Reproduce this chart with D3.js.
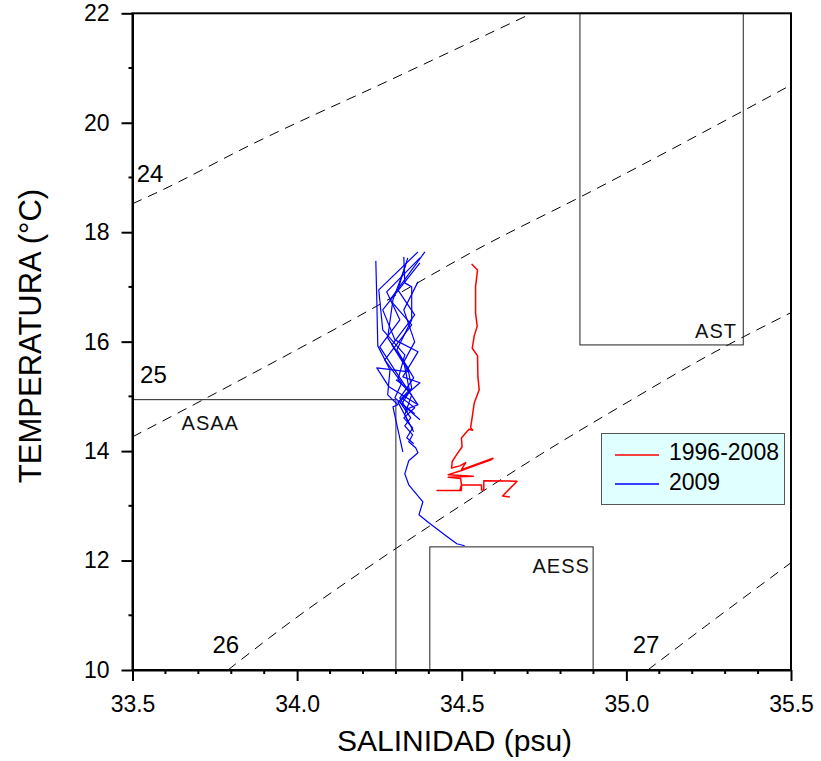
<!DOCTYPE html>
<html>
<head>
<meta charset="utf-8">
<script src="https://cdn.jsdelivr.net/npm/d3@7"></script>
<style>
  html, body { margin: 0; padding: 0; background: #fff; }
  svg { display: block; font-family: Arial, "Liberation Sans", sans-serif; }
</style>
</head>
<body>
<svg id="chart" width="821" height="761"></svg>
<script>
// Axis ticks
const xMajor = [33.5, 34.0, 34.5, 35.0, 35.5];
const xMinor = [33.6, 33.7, 33.8, 33.9, 34.1, 34.2, 34.3, 34.4, 34.6, 34.7, 34.8, 34.9, 35.1, 35.2, 35.3, 35.4];
const yMajor = [10, 12, 14, 16, 18, 20, 22];
const yMinor = [11, 13, 15, 17, 19, 21];

// Sigma-t isopycnals [salinity, temperature]
const sigma24 = [[33.50, 18.52], [33.583, 18.75], [33.857, 19.59], [34.282, 20.78], [34.713, 22.0]];
const sigma25 = [[33.50, 14.26], [33.887, 15.49], [34.200, 16.51], [34.579, 17.79], [34.859, 18.64], [35.50, 20.69]];
const sigma26 = [[33.790, 10.0], [33.969, 10.83], [34.273, 12.11], [34.519, 13.09], [34.737, 13.93], [34.980, 14.81], [35.253, 15.76], [35.50, 16.53]];
const sigma27 = [[35.065, 10.0], [35.247, 10.83], [35.50, 11.96]];
const isoLabels = [
  { text: "24", s: 33.513, t: 18.92 },
  { text: "25", s: 33.523, t: 15.24 },
  { text: "26", s: 33.743, t: 10.31 },
  { text: "27", s: 35.019, t: 10.31 }
];

// Water-mass domains
const asaaLimits = { sMax: 34.3, tTop: 14.94 };
const aess = { s0: 34.403, s1: 34.899, t0: 10, t1: 12.25 };
const ast = { s0: 34.859, s1: 35.355, t0: 15.94, t1: 22 };
const massLabels = [
  { text: "ASAA", s: 33.649, t: 14.39, anchor: "start" },
  { text: "AESS", s: 34.889, t: 11.78, anchor: "end" },
  { text: "AST",  s: 35.336, t: 16.07, anchor: "end" }
];

// Mean T-S profile 1996-2008
const tsRed = [
  [34.530, 17.42], [34.548, 17.31], [34.542, 17.01], [34.542, 16.52], [34.547, 16.28], [34.538, 16.11],
  [34.532, 15.88], [34.548, 15.74], [34.549, 15.36], [34.553, 15.12], [34.538, 14.88], [34.532, 14.63],
  [34.527, 14.43], [34.533, 14.38], [34.522, 14.40], [34.499, 14.24], [34.501, 14.08], [34.484, 13.93],
  [34.471, 13.81], [34.469, 13.69], [34.494, 13.73], [34.512, 13.79], [34.499, 13.66], [34.595, 13.87],
  [34.589, 13.84], [34.497, 13.64], [34.459, 13.57], [34.535, 13.54], [34.459, 13.52], [34.497, 13.50],
  [34.499, 13.38], [34.494, 13.28], [34.425, 13.28], [34.499, 13.28], [34.499, 13.38], [34.560, 13.38],
  [34.560, 13.29], [34.567, 13.29], [34.567, 13.46], [34.668, 13.45], [34.624, 13.18], [34.646, 13.16]
];

// CTD casts 2009
const cast1 = [[34.239, 17.476], [34.242, 16.763], [34.245, 15.923], [34.282, 15.485], [34.275, 15.028], [34.306, 14.846], [34.291, 14.809], [34.321, 13.987]];
const cast2 = [[34.367, 17.640], [34.248, 16.946], [34.260, 16.215], [34.327, 15.759], [34.306, 15.302], [34.348, 15.028], [34.327, 14.663], [34.342, 14.480]];
const cast3 = [[34.373, 17.531], [34.272, 16.910], [34.312, 16.398], [34.251, 15.905], [34.300, 15.448], [34.367, 14.846], [34.327, 14.754]];
const cast4 = [[34.388, 17.640], [34.282, 16.763], [34.348, 16.307], [34.266, 15.667], [34.318, 15.248], [34.297, 14.973], [34.373, 14.572]];
const cast5 = [[34.324, 17.549], [34.327, 17.074], [34.348, 17.001], [34.348, 16.398], [34.303, 15.850], [34.354, 15.339], [34.312, 14.973], [34.336, 14.718]];
const cast6 = [[34.336, 17.531], [34.306, 16.946], [34.357, 16.490], [34.288, 15.942], [34.339, 15.448], [34.242, 15.521], [34.279, 15.174], [34.367, 14.846]];
const cast7 = [[34.373, 17.439], [34.260, 16.581], [34.297, 16.033], [34.367, 15.814], [34.321, 15.357], [34.373, 15.248], [34.306, 14.900], [34.354, 14.353]];
const cast8 = [[34.330, 17.403], [34.291, 16.763], [34.275, 16.069], [34.336, 15.521], [34.348, 15.156], [34.318, 14.864], [34.357, 14.681]];
const cast9 = [[34.367, 17.092], [34.324, 16.581], [34.357, 15.996], [34.324, 15.631], [34.342, 15.083], [34.312, 14.900],
  [34.345, 14.608], [34.327, 14.462], [34.351, 14.298], [34.339, 14.170], [34.360, 14.061], [34.367, 13.969],
  [34.339, 13.823], [34.327, 13.585], [34.339, 13.384], [34.382, 13.074], [34.370, 12.836], [34.400, 12.690],
  [34.452, 12.453], [34.485, 12.307], [34.509, 12.270]];
const cast10 = [[34.300, 15.302], [34.342, 15.120], [34.318, 14.973], [34.357, 14.791], [34.324, 14.608], [34.351, 14.425], [34.333, 14.243], [34.354, 14.133]];
const casts2009 = [cast1, cast2, cast3, cast4, cast5, cast6, cast7, cast8, cast9, cast10];

const legendItems = [
  { label: "1996-2008", color: "#ff0000" },
  { label: "2009", color: "#0000ff" }
];

const svg = d3.select("#chart");
const x = d3.scaleLinear().domain([33.5, 35.5]).range([132.5, 791]);
const y = d3.scaleLinear().domain([10, 22]).range([670, 13.3]);
const line = d3.line().x(d => x(d[0])).y(d => y(d[1]));
const smooth = d3.line().x(d => x(d[0])).y(d => y(d[1])).curve(d3.curveMonotoneX);

const plot = svg.append("g");
plot.append("clipPath").attr("id", "clip")
  .append("rect").attr("x", x(33.5)).attr("y", y(22)).attr("width", x(35.5) - x(33.5)).attr("height", y(10) - y(22));

// Isopycnals
const iso = plot.append("g").attr("clip-path", "url(#clip)");
iso.selectAll("path.iso").data([sigma24, sigma25, sigma26, sigma27]).join("path")
  .attr("class", "iso").attr("d", smooth).attr("fill", "none")
  .attr("stroke", "#000").attr("stroke-width", 1).attr("stroke-dasharray", "10,7");
plot.selectAll("text.isolab").data(isoLabels).join("text").attr("class", "isolab")
  .attr("x", d => x(d.s)).attr("y", d => y(d.t))
  .attr("font-size", 24).attr("fill", "#000").text(d => d.text);

// Water-mass boxes
const boxes = plot.append("g").attr("fill", "none").attr("stroke", "#222").attr("stroke-width", 1);
boxes.append("path").attr("d", line([[33.5, asaaLimits.tTop], [asaaLimits.sMax, asaaLimits.tTop], [asaaLimits.sMax, 10]]));
boxes.append("rect").attr("x", x(aess.s0)).attr("y", y(aess.t1))
  .attr("width", x(aess.s1) - x(aess.s0)).attr("height", y(aess.t0) - y(aess.t1));
boxes.append("rect").attr("x", x(ast.s0)).attr("y", y(ast.t1))
  .attr("width", x(ast.s1) - x(ast.s0)).attr("height", y(ast.t0) - y(ast.t1));
plot.selectAll("text.masslab").data(massLabels).join("text").attr("class", "masslab")
  .attr("x", d => x(d.s)).attr("y", d => y(d.t)).attr("text-anchor", d => d.anchor)
  .attr("font-size", 20).attr("letter-spacing", 1).attr("fill", "#111").text(d => d.text);

// T-S curves
plot.append("path").attr("d", line(tsRed)).attr("fill", "none")
  .attr("stroke", "#ff0000").attr("stroke-width", 1.5).attr("stroke-linejoin", "round");
plot.selectAll("path.cast").data(casts2009).join("path").attr("class", "cast")
  .attr("d", line).attr("fill", "none")
  .attr("stroke", "#0000ff").attr("stroke-width", 1.2).attr("stroke-linejoin", "round");

// Frame
svg.append("rect").attr("x", x(33.5)).attr("y", y(22)).attr("width", x(35.5) - x(33.5)).attr("height", y(10) - y(22))
  .attr("fill", "none").attr("stroke", "#000").attr("stroke-width", 2);

// Axes with major labelled ticks
const fmtX = d3.format(".1f");
const gx = svg.append("g").attr("transform", `translate(0,${y(10)})`)
  .call(d3.axisBottom(x).tickValues(xMajor).tickFormat(fmtX).tickSizeInner(11).tickSizeOuter(0).tickPadding(15));
const gy = svg.append("g").attr("transform", `translate(${x(33.5)},0)`)
  .call(d3.axisLeft(y).tickValues(yMajor).tickSizeInner(11).tickSizeOuter(0).tickPadding(12));
[gx, gy].forEach(g => {
  g.select(".domain").attr("stroke", "#000").attr("stroke-width", 2);
  g.selectAll(".tick line").attr("stroke", "#000").attr("stroke-width", 2);
  g.selectAll("text").attr("font-size", 23).attr("fill", "#000")
    .attr("font-family", "Arial, 'Liberation Sans', sans-serif");
});

// Minor ticks
svg.append("g").selectAll("line").data(xMinor).join("line")
  .attr("x1", d => x(d)).attr("x2", d => x(d)).attr("y1", y(10)).attr("y2", y(10) + 4)
  .attr("stroke", "#000").attr("stroke-width", 2);
svg.append("g").selectAll("line").data(yMinor).join("line")
  .attr("x1", x(33.5)).attr("x2", x(33.5) - 4).attr("y1", d => y(d)).attr("y2", d => y(d))
  .attr("stroke", "#000").attr("stroke-width", 2);

// Axis titles
svg.append("text").attr("x", 337).attr("y", 751).attr("font-size", 30).attr("fill", "#000")
  .text("SALINIDAD (psu)");
svg.append("text").attr("transform", "translate(41,336) rotate(-90)").attr("text-anchor", "middle")
  .attr("font-size", 31).attr("fill", "#000").text("TEMPERATURA (°C)");

// Legend
const lg = svg.append("g");
lg.append("rect").attr("x", 601.5).attr("y", 433.5).attr("width", 183).attr("height", 71)
  .attr("fill", "#e0ffff").attr("stroke", "#555").attr("stroke-width", 1);
const rows = lg.selectAll("g.row").data(legendItems).join("g").attr("class", "row")
  .attr("transform", (d, i) => `translate(0,${455 + i * 29})`);
rows.append("line").attr("x1", 615).attr("x2", 659).attr("y1", 0).attr("y2", 0)
  .attr("stroke", d => d.color).attr("stroke-width", 1.5);
rows.append("text").attr("x", 669).attr("y", (d, i) => 5 + i).attr("font-size", 23).attr("fill", "#000")
  .text(d => d.label);
</script>
</body>
</html>
